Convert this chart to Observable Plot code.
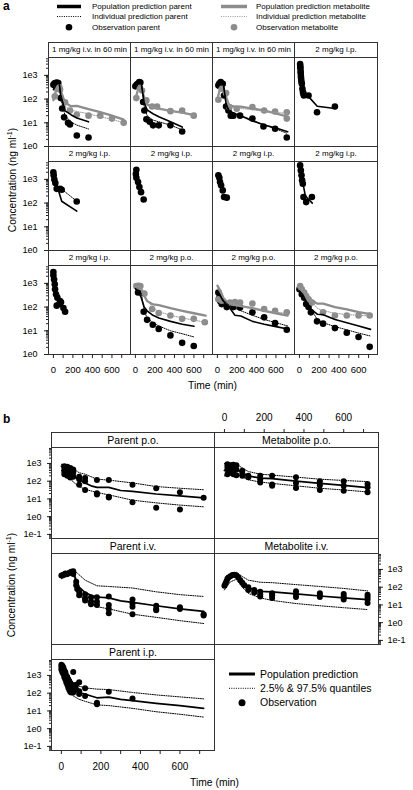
<!DOCTYPE html>
<html><head><meta charset="utf-8">
<script src="https://cdn.jsdelivr.net/npm/d3@7"></script>
<script src="https://cdn.jsdelivr.net/npm/@observablehq/plot@0.6"></script>
<style>
body{margin:0;background:#fff;font-family:"Liberation Sans",Arial,Helvetica,sans-serif;color:#000;}
#root{position:relative;width:413px;height:790px;overflow:hidden;background:#fff;}
.strip{position:absolute;box-sizing:border-box;border:1px solid #333;text-align:center;white-space:nowrap;background:#fff;overflow:hidden;}
.lab{position:absolute;white-space:nowrap;}
.ytitle{position:absolute;white-space:nowrap;transform:translate(-50%,-50%) rotate(-90deg);font-size:10.2px;}
.ytitle sup{font-size:70%;vertical-align:0.45em;line-height:0;}
</style></head>
<body><div id="root"></div>
<script>
// ---------------- tick values ----------------
const xTickVals = [0,100,200,300,400,500,600,700];
const xTickLabels = [0,200,400,600];
const yMajorA = [1,10,100,1000];
const yMajorB = [0.1,1,10,100,1000];

// ---------------- panel a strip labels ----------------
const stripA = [
  ["1 mg/kg i.v. in 60 min","1 mg/kg i.v. in 60 min","1 mg/kg i.v. in 60 min","2 mg/kg i.p."],
  ["2 mg/kg i.p.","2 mg/kg i.p.","2 mg/kg i.p.","2 mg/kg i.p."],
  ["2 mg/kg i.p.","2 mg/kg p.o.","2 mg/kg p.o.","2 mg/kg p.o."]
];
const legendA = ["Population prediction parent","Individual prediction parent","Observation parent",
                 "Population prediction metabolite","Individual prediction metabolite","Observation metabolite"];

// ---------------- panel a data: [time (min), concentration] ----------------
// row 1
const A11_obsP = [[0,400],[10,450],[20,480],[35,500],[50,480],[75,110],[90,40],[110,17],[150,10],[170,8.5],[240,2.9],[360,2.4]];
const A11_obsM = [[15,130],[35,275],[60,320],[68,250],[120,74],[170,33],[240,22],[360,20],[480,20],[600,15],[720,10]];
const A11_popP = [[0,250],[30,420],[60,480],[75,150],[120,32],[180,22],[240,16],[360,11]];
const A11_indP = [[0,300],[30,450],[60,500],[75,110],[120,20],[180,11],[240,8],[360,5.5]];
const A11_popM = [[0,90],[30,250],[60,330],[90,150],[120,70],[180,50],[240,52],[360,38],[480,28],[600,20],[720,13.5]];
const A11_indM = [[0,100],[30,270],[60,320],[90,120],[120,50],[180,34],[240,30],[360,24],[480,18],[600,14],[720,10]];

const A12_obsP = [[0,345],[12,400],[24,445],[40,520],[51,500],[79,75],[92,33],[113,14],[147,11],[181,7.8],[239,7.8],[359,7.8],[479,4.3]];
const A12_obsM = [[10,110],[44,300],[68,230],[113,88],[171,49],[222,49],[359,31],[479,33],[598,20]];
const A12_popP = [[0,300],[30,450],[60,500],[90,70],[120,35],[180,24],[240,18],[360,11],[480,6.6]];
const A12_indP = [[0,320],[30,460],[60,500],[90,50],[120,20],[180,13],[240,11],[360,8],[480,5]];
const A12_popM = [[0,100],[30,280],[60,310],[90,120],[120,60],[180,45],[240,40],[360,32],[480,27],[600,21]];
const A12_indM = [[0,110],[30,290],[60,300],[90,100],[120,55],[180,45],[240,40],[360,32],[480,26],[600,20]];

const A13_obsP = [[10,380],[20,450],[34,520],[55,445],[68,142],[89,49],[113,33],[137,20],[164,20],[232,20],[359,15],[472,7],[591,5.6],[711,2.4]];
const A13_obsM = [[10,94],[44,275],[89,180],[123,46],[198,39],[359,46],[479,33],[591,30],[711,28],[711,15]];
const A13_popP = [[0,300],[30,450],[60,480],[90,60],[120,32],[180,24],[240,20],[360,12],[480,8],[600,6],[720,4.2]];
const A13_indP = [[0,320],[30,480],[60,500],[90,50],[120,28],[180,22],[240,20],[360,13],[480,8],[600,5.5],[720,3.5]];
const A13_popM = [[0,100],[30,300],[60,330],[90,120],[120,55],[180,48],[240,48],[360,40],[480,33],[600,25],[720,18]];
const A13_indM = [[0,100],[30,280],[60,320],[90,110],[120,50],[180,42],[240,40],[360,36],[480,30],[600,27],[720,25]];

const A14_obsP = [[7,3000],[9,2400],[10,2000],[12,1500],[13,1200],[15,900],[17,720],[20,550],[24,445],[30,275],[35,200],[41,170],[45,142],[92,142],[178,28],[359,49]];
const A14_popP = [[0,3000],[10,2000],[30,700],[50,200],[90,130],[180,50],[360,40]];
// row 2
const A21_obsP = [[0,2000],[3,1500],[10,980],[20,700],[34,400],[68,400],[85,365],[239,117]];
const A21_popP = [[0,2000],[20,1000],[40,500],[85,120],[240,46]];
const A21_indP = [[0,2000],[20,1000],[40,500],[80,400],[240,120]];
const A22_obsP = [[10,2560],[5,1700],[10,1180],[27,770],[41,475],[58,290],[85,142]];
const A23_obsP = [[10,1480],[20,1180],[27,770],[38,560],[55,343],[68,180],[96,170]];
const A24_obsP = [[7,3900],[14,2400],[21,1480],[27,920],[34,655],[41,180],[68,110],[126,180]];
const A24_popP = [[0,3500],[15,2000],[35,700],[60,200],[130,100]];
// row 3
const A31_obsP = [[0,3000],[0,2200],[7,1450],[14,910],[17,560],[27,350],[41,250],[68,180],[34,115],[61,135],[78,160],[103,92],[120,64]];

const A32_obsP = [[27,410],[85,64],[120,29],[178,18],[239,12],[359,6.4],[479,3.1],[598,2.3]];
const A32_obsM = [[10,775],[30,800],[51,775],[92,370],[171,83],[239,56],[359,44],[479,32],[598,32],[711,23]];
const A32_popP = [[0,600],[30,450],[60,250],[90,100],[120,70],[180,45],[240,35],[360,25],[480,19],[600,15.5]];
const A32_indP = [[0,600],[60,400],[90,70],[120,35],[180,22],[240,16],[360,10],[480,7.5],[600,5.5]];
const A32_popM = [[0,700],[30,800],[60,600],[90,300],[120,180],[180,130],[240,120],[360,90],[480,70],[600,55],[720,44]];
const A32_indM = [[0,750],[60,700],[120,200],[180,90],[240,65],[360,45],[480,35],[600,28],[720,23]];

const A33_obsP = [[10,410],[20,250],[27,180],[44,134],[96,100],[164,100],[232,95],[359,60],[479,37],[591,21],[711,11]];
const A33_obsM = [[10,215],[44,185],[130,155],[180,165],[232,155],[359,142],[479,83],[591,70],[711,60]];
const A33_popP = [[0,480],[30,300],[60,180],[120,100],[180,45],[240,42],[360,25],[480,19],[600,15],[720,12]];
const A33_indP = [[0,400],[60,200],[120,120],[180,90],[240,70],[360,45],[480,30],[600,22],[720,16]];
const A33_popM = [[0,800],[30,500],[60,250],[120,130],[180,120],[240,110],[360,90],[480,70],[600,55],[720,44]];
const A33_indM = [[0,600],[60,250],[120,150],[180,130],[240,110],[360,85],[480,70],[600,60],[720,55]];

const A34_obsP = [[0,560],[24,350],[48,250],[68,134],[92,102],[116,60],[178,25],[239,20],[359,13],[479,8.3],[598,5.5],[711,2.1]];
const A34_obsM = [[7,775],[24,560],[48,410],[68,295],[92,215],[126,155],[239,60],[359,44],[479,44],[598,44],[711,44]];
const A34_popP = [[0,480],[30,350],[60,200],[120,80],[180,50],[240,48],[360,30],[480,22],[600,16],[720,11.5]];
const A34_indP = [[0,450],[60,200],[120,80],[180,30],[240,22],[360,15],[480,11],[600,8],[720,6]];
const A34_popM = [[0,800],[30,600],[60,400],[120,200],[180,140],[240,140],[360,100],[480,80],[600,62],[720,50]];
const A34_indM = [[0,700],[60,400],[120,180],[180,90],[240,70],[360,55],[480,48],[600,45],[720,42]];

// ---------------- panel b ----------------
const stripB = ["Parent p.o.","Metabolite p.o.","Parent i.v.","Metabolite i.v.","Parent i.p."];
const legendB = ["Population prediction","2.5% & 97.5% quantiles","Observation"];

const B_poP_obs = [[15,700],[15,500],[15,350],[15,250],[30,650],[30,420],[30,300],[30,200],[45,550],[45,380],[45,230],[45,160],[60,450],[60,300],[60,180],[90,180],[90,130],[90,64],[120,150],[120,100],[120,32],[180,116],[180,21],[180,18],[240,116],[240,13.5],[240,12],[360,64],[360,6.5],[480,40],[480,3.2],[600,24],[600,2.5],[720,11.5]];
const B_poP_pop = [[0,700],[15,600],[30,450],[60,200],[90,120],[120,80],[150,55],[180,45],[240,45],[300,30],[360,27],[480,19],[600,15],[720,11.5]];
const B_poP_hi = [[0,900],[30,800],[60,500],[90,300],[120,250],[180,130],[240,115],[360,80],[480,50],[600,40],[720,33]];
const B_poP_lo = [[0,400],[30,250],[60,90],[90,50],[120,35],[180,23],[240,17],[360,8.5],[480,6],[600,4.5],[720,3.6]];

const B_poM_obs = [[15,900],[15,650],[15,450],[15,250],[30,800],[30,550],[30,300],[45,850],[45,500],[45,250],[60,800],[60,450],[60,220],[90,390],[90,260],[90,200],[120,200],[120,165],[180,200],[180,130],[180,85],[240,200],[240,65],[240,55],[360,165],[360,80],[360,42],[480,98],[480,60],[480,32],[600,98],[600,55],[600,29],[720,70],[720,45],[720,24]];
const B_poM_pop = [[0,400],[30,600],[60,500],[90,280],[120,200],[180,150],[240,140],[360,100],[480,75],[600,58],[720,43]];
const B_poM_hi = [[0,1000],[30,1100],[60,900],[120,350],[180,250],[240,220],[360,170],[480,130],[600,110],[720,95]];
const B_poM_lo = [[0,200],[30,280],[60,250],[120,120],[180,90],[240,75],[360,55],[480,40],[600,32],[720,25]];

const B_ivP_obs = [[0,450],[10,500],[20,600],[30,550],[40,650],[50,750],[60,800],[60,550],[75,200],[75,130],[80,80],[90,54],[90,35],[120,40],[120,25],[120,18],[150,27],[150,16],[150,11],[180,27],[180,15],[180,10],[240,30],[240,10],[240,6],[240,3.4],[360,20],[360,12],[360,8],[360,3],[480,9],[480,6],[480,5],[600,7.5],[600,6],[720,3],[720,2.5]];
const B_ivP_pop = [[0,400],[30,600],[60,800],[75,250],[90,100],[120,50],[150,35],[180,28],[240,25],[300,17],[360,14],[480,9],[600,6],[720,4.3]];
const B_ivP_hi = [[0,600],[60,1000],[90,500],[120,250],[180,120],[240,110],[360,90],[480,55],[600,38],[720,30]];
const B_ivP_lo = [[0,300],[60,550],[90,40],[120,15],[180,8],[240,6],[360,3],[480,2],[600,1.3],[720,0.9]];

const B_ivM_obs = [[0,120],[5,160],[10,220],[15,300],[20,350],[30,420],[40,480],[50,500],[60,450],[70,350],[80,250],[90,180],[100,130],[120,100],[120,70],[150,70],[150,50],[180,55],[180,40],[180,30],[240,45],[240,35],[240,25],[360,60],[360,40],[360,28],[480,45],[480,35],[480,28],[600,42],[600,30],[600,20],[720,38],[720,28],[720,20],[720,13]];
const B_ivM_pop = [[0,130],[30,350],[50,480],[75,300],[90,180],[120,100],[150,70],[180,58],[240,55],[360,42],[480,32],[600,25],[720,20]];
const B_ivM_hi = [[0,200],[30,500],[60,700],[90,400],[120,250],[180,190],[240,180],[360,140],[480,110],[600,85],[720,62]];
const B_ivM_lo = [[0,70],[30,200],[60,280],[90,100],[120,45],[180,25],[240,18],[360,12],[480,9],[600,7],[720,5.5]];

const B_ipP_obs = [[0,4000],[0,3000],[0,2200],[5,3500],[5,2000],[5,1500],[10,2800],[10,1800],[10,1200],[15,2000],[15,1300],[15,800],[20,1500],[20,900],[20,600],[25,1000],[25,600],[25,400],[30,800],[30,500],[30,300],[35,600],[35,350],[35,200],[40,450],[40,250],[40,150],[45,350],[45,200],[45,120],[50,300],[50,160],[50,110],[55,250],[55,140],[60,1550],[60,200],[60,110],[75,300],[75,160],[90,420],[90,130],[90,90],[120,190],[120,70],[180,29],[180,24],[240,120],[360,50]];
const B_ipP_pop = [[0,3000],[10,1500],[20,700],[40,250],[60,150],[90,110],[120,90],[150,70],[180,55],[240,60],[300,45],[360,38],[480,27],[600,20],[720,14]];
const B_ipP_hi = [[0,5000],[20,2000],[60,400],[90,250],[120,200],[180,170],[240,160],[360,110],[480,80],[600,62],[720,48]];
const B_ipP_lo = [[0,1200],[20,400],[60,70],[90,45],[120,35],[180,22],[240,20],[360,14],[480,9],[600,6.5],[720,4.5]];

// ---------------- rendering ----------------
const root = document.getElementById("root");
const FONT = '"Liberation Sans", Arial, Helvetica, sans-serif';
const BORDER = "#333";
const GRAY = "#8c8c8c";
const fmtLog = d => "1e" + Math.round(Math.log10(d));
function minor(dom){
  const t=[]; const lo=Math.floor(Math.log10(dom[0])), hi=Math.ceil(Math.log10(dom[1]));
  for(let e=lo;e<=hi;e++) for(let k=1;k<=9;k++){const v=k*Math.pow(10,e); if(v>=dom[0]&&v<=dom[1]) t.push(v);}
  return t;
}
function addDiv(cls, css, html){
  const d=document.createElement("div"); d.className=cls; Object.assign(d.style,css); d.innerHTML=html; root.append(d); return d;
}
function addStrip(left, top, w, h, text, fs){
  addDiv("strip",{left:left+"px",top:top+"px",width:(w+1)+"px",height:(h+1)+"px",fontSize:fs+"px",lineHeight:(h-1)+"px"},text);
}
const X = d => d[0], Y = d => d[1];
function pts(data, fill, r){ return Plot.dot(data,{x:X,y:Y,r,fill,stroke:"none",clip:true}); }
function ln(data, stroke, w, dash){ return Plot.line(data,{x:X,y:Y,stroke,strokeWidth:w,strokeDasharray:dash,clip:true}); }

function addCell(o){
  const ax=[];
  const yanch = o.yLeft ? "left" : (o.yRight ? "right" : null);
  if(yanch){
    ax.push(Plot.axisY({anchor:yanch, ticks:minor(o.ydom), tickSize:2, tickFormat:()=>"", label:null, stroke:"#222"}));
    ax.push(Plot.axisY({anchor:yanch, ticks:o.yMajor.filter(v=>v>=o.ydom[0]&&v<=o.ydom[1]), tickSize:4, tickPadding:o.ypad, tickFormat:fmtLog, fontSize:o.yfs, label:null, stroke:"#222"}));
  }
  const xanch = o.xBottom ? "bottom" : (o.xTop ? "top" : null);
  if(xanch){
    ax.push(Plot.axisX({anchor:xanch, ticks:xTickVals, tickSize:4, tickPadding:8, dy: o.xTop ? -o.stripH : 0,
      tickFormat:d=>xTickLabels.includes(d)?String(d):"", fontSize:o.xfs, label:null, stroke:"#222"}));
  }
  const svg = Plot.plot({
    width:o.w, height:o.h, marginTop:0, marginRight:0, marginBottom:0, marginLeft:0,
    x:{domain:o.xdom, axis: xanch ? undefined : null},
    y:{type:"log", domain:o.ydom, axis: yanch ? undefined : null},
    style:{overflow:"visible", background:"transparent", fontFamily:FONT, color:"#000"},
    marks:[...o.marks, Plot.frame({stroke:BORDER}), ...ax]
  });
  svg.style.position="absolute";
  svg.style.left=o.left+"px"; svg.style.top=o.top+"px";
  svg.style.maxWidth="none";
  root.append(svg);
}

// ----- panel a -----
const colsA=[48,130,212,294,377], rowTopA=[42,146,250], stripHA=15, plotHA=89;
const xdomA=[-50,790], ydomA=[1,Math.pow(10,3.755)];
const rA=3.3;
function cellMarksA(s){
  const m=[];
  if(s.obsP) m.push(pts(s.obsP,"#000",rA));
  if(s.obsM) m.push(pts(s.obsM,GRAY,rA));
  if(s.popM) m.push(ln(s.popM,GRAY,2.3));
  if(s.indM) m.push(ln(s.indM,"#9a9a9a",1,"1,1.3"));
  if(s.popP) m.push(ln(s.popP,"#000",1.6));
  if(s.indP) m.push(ln(s.indP,"#000",1,"1,1.3"));
  return m;
}
const seriesA=[
  [{obsP:A11_obsP,obsM:A11_obsM,popP:A11_popP,indP:A11_indP,popM:A11_popM,indM:A11_indM},
   {obsP:A12_obsP,obsM:A12_obsM,popP:A12_popP,indP:A12_indP,popM:A12_popM,indM:A12_indM},
   {obsP:A13_obsP,obsM:A13_obsM,popP:A13_popP,indP:A13_indP,popM:A13_popM,indM:A13_indM},
   {obsP:A14_obsP,popP:A14_popP}],
  [{obsP:A21_obsP,popP:A21_popP,indP:A21_indP},{obsP:A22_obsP},{obsP:A23_obsP},{obsP:A24_obsP,popP:A24_popP}],
  [{obsP:A31_obsP},
   {obsP:A32_obsP,obsM:A32_obsM,popP:A32_popP,indP:A32_indP,popM:A32_popM,indM:A32_indM},
   {obsP:A33_obsP,obsM:A33_obsM,popP:A33_popP,indP:A33_indP,popM:A33_popM,indM:A33_indM},
   {obsP:A34_obsP,obsM:A34_obsM,popP:A34_popP,indP:A34_indP,popM:A34_popM,indM:A34_indM}]
];
for(let r=0;r<3;r++) for(let c=0;c<4;c++){
  const left=colsA[c], w=colsA[c+1]-colsA[c], top=rowTopA[r];
  addStrip(left, top, w, stripHA, stripA[r][c], 8);
  addCell({left, top:top+stripHA, w, h:plotHA, xdom:xdomA, ydom:ydomA, yMajor:yMajorA, stripH:stripHA,
    yLeft:c===0, xBottom:r===2, ypad:7, yfs:9, xfs:9.5, marks:cellMarksA(seriesA[r][c])});
}

// ----- panel b -----
const colsB=[51,214,378], rowTopB=[432,538,644], stripHB=15, plotHB=91;
const xdomB=[-50,775], ydomB=[Math.pow(10,-1.23),Math.pow(10,3.9)];
const rB=3;
function cellMarksB(obs,pop,hi,lo){
  return [pts(obs,"#000",rB), ln(hi,"#000",1,"1,1.3"), ln(lo,"#000",1,"1,1.3"), ln(pop,"#000",1.7)];
}
const cellsB=[
  {r:0,c:0,s:[B_poP_obs,B_poP_pop,B_poP_hi,B_poP_lo],yLeft:true},
  {r:0,c:1,s:[B_poM_obs,B_poM_pop,B_poM_hi,B_poM_lo],xTop:true},
  {r:1,c:0,s:[B_ivP_obs,B_ivP_pop,B_ivP_hi,B_ivP_lo]},
  {r:1,c:1,s:[B_ivM_obs,B_ivM_pop,B_ivM_hi,B_ivM_lo],yRight:true},
  {r:2,c:0,s:[B_ipP_obs,B_ipP_pop,B_ipP_hi,B_ipP_lo],yLeft:true,xBottom:true}
];
cellsB.forEach((cb,i)=>{
  const left=colsB[cb.c], w=colsB[cb.c+1]-colsB[cb.c], top=rowTopB[cb.r];
  addStrip(left, top, w, stripHB, stripB[i], 10.5);
  addCell({left, top:top+stripHB, w, h:plotHB, xdom:xdomB, ydom:ydomB, yMajor:yMajorB, stripH:stripHB,
    yLeft:!!cb.yLeft, yRight:!!cb.yRight, xBottom:!!cb.xBottom, xTop:!!cb.xTop,
    ypad: cb.yRight?5:6, yfs:9, xfs:10, marks:cellMarksB(...cb.s)});
});

// ----- titles -----
addDiv("lab",{left:"3px",top:"-1px",fontSize:"12px",fontWeight:"bold"},"a");
addDiv("lab",{left:"3px",top:"412px",fontSize:"12px",fontWeight:"bold"},"b");
addDiv("ytitle",{left:"12px",top:"180px"},"Concentration (ng ml<sup>-1</sup>)");
addDiv("ytitle",{left:"11px",top:"585px"},"Concentration (ng ml<sup>-1</sup>)");
addDiv("lab",{left:"212.5px",top:"385px",fontSize:"10.3px",transform:"translate(-50%,-50%)"},"Time (min)");
addDiv("lab",{left:"214.5px",top:"781.5px",fontSize:"10.3px",transform:"translate(-50%,-50%)"},"Time (min)");

// ----- legends -----
const legA = d3.select(root).append("svg").attr("width",413).attr("height",36)
  .style("position","absolute").style("left","0px").style("top","0px").style("font-family",FONT);
const legRowsY=[6.5,16.5,27.3];
function legItem(svg, x0, x1, y, kind, color, text, tx, fs, w){
  if(kind==="line") svg.append("line").attr("x1",x0).attr("x2",x1).attr("y1",y).attr("y2",y).attr("stroke",color).attr("stroke-width",w);
  if(kind==="dash") svg.append("line").attr("x1",x0).attr("x2",x1).attr("y1",y).attr("y2",y).attr("stroke",color).attr("stroke-width",1).attr("stroke-dasharray","1,1.3");
  if(kind==="dot") svg.append("circle").attr("cx",(x0+x1)/2).attr("cy",y).attr("r",w).attr("fill",color);
  svg.append("text").attr("x",tx).attr("y",y).attr("dy","0.35em").attr("font-size",fs).text(text);
}
legItem(legA,57,81,legRowsY[0],"line","#000",legendA[0],92,8,3.5);
legItem(legA,57,81,legRowsY[1],"dash","#000",legendA[1],92,8);
legItem(legA,57,81,legRowsY[2],"dot","#000",legendA[2],92,8,3.3);
legItem(legA,221,247,legRowsY[0],"line",GRAY,legendA[3],256,8,3.5);
legItem(legA,221,247,legRowsY[1],"dash","#9a9a9a",legendA[4],256,8);
legItem(legA,221,247,legRowsY[2],"dot",GRAY,legendA[5],256,8,3.3);

const legB = d3.select(root).append("svg").attr("width",200).attr("height",50)
  .style("position","absolute").style("left","214px").style("top","664px").style("font-family",FONT);
legItem(legB,15,41,10,"line","#000",legendB[0],46,10.5,3);
legItem(legB,15,41,24.3,"dash","#000",legendB[1],46,10.5);
legItem(legB,15,41,38.7,"dot","#000",legendB[2],46,10.5,3.5);
</script></body></html>
